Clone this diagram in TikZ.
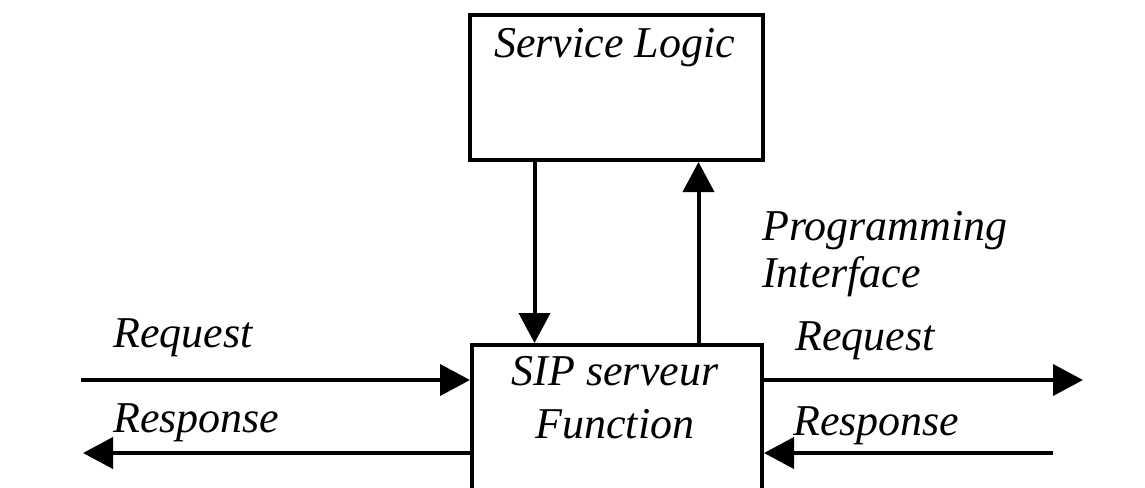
\documentclass[tikz,border=0pt]{standalone}
\usepackage{fontspec}
\setmainfont{Liberation Serif}
\usepackage{tikz}
\usetikzlibrary{arrows.meta,positioning}
\newcommand{\linew}{4pt}
\newcommand{\tipl}{30pt}

\begin{document}
\begin{tikzpicture}[x=1pt,y=-1pt]
            \tikzset{Box/.style = {draw, line width=\linew, inner sep=0pt},
                     Arr/.style = {line width=\linew, -{Triangle[length=\tipl, width=31pt]}},
                     Txt/.style = {inner sep=0pt, font=\fontsize{44}{47}\selectfont\itshape}}
            \clip (0,0) rectangle (1145,487);
            \node[Box, anchor=north west, minimum width=293pt, minimum height=145pt] (logic) at (468,13) {};
            \node[Box, anchor=north west, minimum width=290pt, minimum height=220pt] (sip) at (470,343) {};

            \node[Txt, anchor=base] (logict) at (614.5,57) {Service Logic};
            \node[Txt, anchor=base, align=center] (sipt) at (615,438) {SIP serveur\\[6pt]Function};
            \node[Txt, anchor=base west, align=left] (api) at (762,287) {Programming\\Interface};
            \node[Txt, anchor=base west] (reqin) at (113,347) {Request};
            \node[Txt, anchor=base west] (resout) at (113,432) {Response};
            \node[Txt, anchor=base west] (reqout) at (795,350) {Request};
            \node[Txt, anchor=base west] (resin) at (793,435) {Response};

            \coordinate (a) at (81,380);
            \coordinate (b) at (83,453);
            \coordinate (c) at (1083,380);
            \coordinate (d) at (1053,453);

            \draw[Arr] ([xshift=-82pt]logic.south) -- ([xshift=-82pt]logic.south |- sip.north);
            \draw[Arr] ([xshift=82pt]logic.south |- sip.north) -- ([xshift=82pt]logic.south);
            \draw[Arr] (a) -- (a -| sip.west);
            \draw[Arr] (b -| sip.west) -- (b);
            \draw[Arr] (c -| sip.east) -- (c);
            \draw[Arr] (d) -- (d -| sip.east);
        \end{tikzpicture}
\end{document}
